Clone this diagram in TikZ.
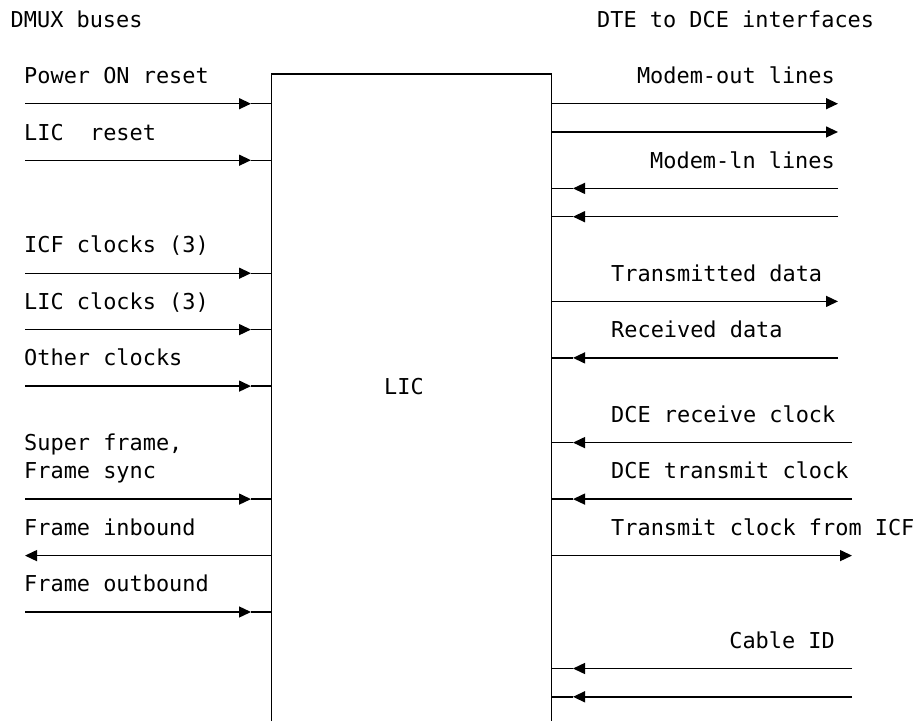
\documentclass[tikz,border=0pt]{standalone}
\usepackage{fontspec}
\setmonofont{DejaVu Sans Mono}
\usetikzlibrary{arrows.meta}
\begin{document}
\begin{tikzpicture}[x=1pt,y=-1pt,
  lbl/.style={font=\fontsize{21.9}{26}\selectfont\ttfamily, inner sep=0pt},
  lw/.style={lbl,anchor=base west},
  le/.style={lbl,anchor=base east},
  wire/.style={line width=1.4pt},
  arr/.style={wire,-{Triangle[length=12pt,width=11pt]}}]
\useasboundingbox (0,0) rectangle (922,721);
% box, open at the bottom
\node[draw=none, minimum width=280pt, minimum height=647pt, inner sep=0pt, outer sep=0pt, anchor=north west] (lic) at (271.5,74) {};
\draw[wire] (lic.south west) -- (lic.north west) -- (lic.north east) -- (lic.south east);
\node[lbl, anchor=base] (lictxt) at (404,394) {LIC};

% headings
\node[lw] (hdmux) at (10.5,27) {DMUX buses};
\node[lw] (hdte) at (597,27) {DTE to DCE interfaces};

% macros for connectors
\newcommand\inL[2]{%
  \coordinate (#1s) at (25,#2); \coordinate (#1t) at (251,#2);
  \draw[arr] (#1s) -- (#1t); \draw[wire] (#1t) -- (#1t -| lic.west);}
\newcommand\outL[2]{%
  \coordinate (#1t) at (25,#2);
  \draw[arr] (#1t -| lic.west) -- (#1t);}
\newcommand\outR[3]{%
  \coordinate (#1t) at (#3,#2);
  \draw[arr] (#1t -| lic.east) -- (#1t);}
\newcommand\inR[3]{%
  \coordinate (#1s) at (#3,#2); \coordinate (#1t) at (573,#2);
  \draw[arr] (#1s) -- (#1t); \draw[wire] (#1t) -- (#1t -| lic.east);}

% left side
\node[lw] (l2) at (24,83.5) {Power ON reset};
\inL{la}{103.7}
\node[lw] (l4) at (24,140) {LIC\ \ reset};
\inL{lb}{160.2}
\node[lw] (l8) at (24,252.9) {ICF clocks (3)};
\inL{lc}{273.2}
\node[lw] (l10) at (24,309.4) {LIC clocks (3)};
\inL{ld}{329.6}
\node[lw] (l12) at (24,365.9) {Other clocks};
\inL{le}{386.1}
\node[lw] (l15) at (24,450.6) {Super frame,};
\node[lw] (l16) at (24,478.8) {Frame sync};
\inL{lf}{499.1}
\node[lw] (l18) at (24,535.3) {Frame inbound};
\outL{lg}{555.6}
\node[lw] (l20) at (24,591.8) {Frame outbound};
\inL{lh}{612.0}

% right side
\node[le] (r2) at (835,83.5) {Modem-out lines};
\outR{ra}{103.7}{838}
\outR{rb}{131.96}{838}
\node[le] (r5) at (835,168.2) {Modem-ln lines};
\inR{rc}{188.4}{838}
\inR{rd}{216.7}{838}
\node[lw] (r9) at (611,281.2) {Transmitted data};
\outR{re}{301.4}{838}
\node[lw] (r11) at (611,337.6) {Received data};
\inR{rf}{357.9}{838}
\node[lw] (r14) at (611,422.4) {DCE receive clock};
\inR{rg}{442.6}{852}
\node[lw] (r16) at (611,478.8) {DCE transmit clock};
\inR{rh}{499.1}{852}
\node[lw] (r18) at (611,535.3) {Transmit clock from ICF};
\outR{ri}{555.6}{852}
\node[le] (r22) at (835,648.3) {Cable ID};
\inR{rj}{668.5}{852}
\inR{rk}{696.8}{852}
\end{tikzpicture}
\end{document}
